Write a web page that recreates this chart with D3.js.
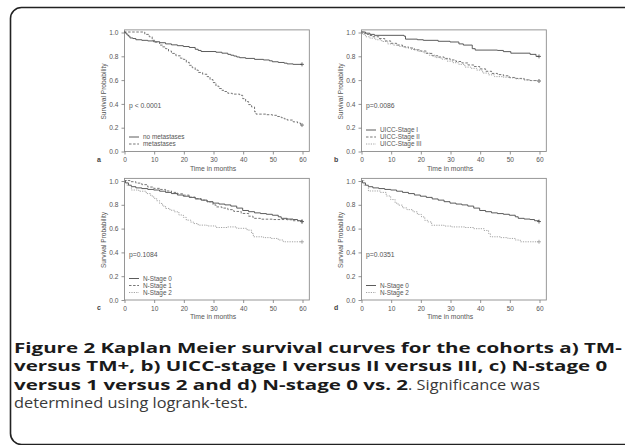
<!DOCTYPE html>
<html>
<head>
<meta charset="utf-8">
<script src="https://cdn.jsdelivr.net/npm/d3@7"></script>
<style>
body { margin: 0; background: #fff; }
svg { display: block; }
</style>
</head>
<body>
<div id="content"></div>
<script>
'use strict';

// ---- data (time in months, survival probability) ----
var xTicks = [0, 10, 20, 30, 40, 50, 60];
var yTicks = [0, 0.2, 0.4, 0.6, 0.8, 1.0];

var noMetastases = [[0, 1], [0.5, 0.99], [1, 0.975], [1.5, 0.965], [2, 0.95], [3, 0.945], [4, 0.935],
    [6, 0.93], [8, 0.925], [10, 0.918], [12, 0.91], [14, 0.9], [16, 0.892], [18, 0.885], [20, 0.878],
    [22, 0.87], [24, 0.855], [25, 0.845], [26, 0.836], [31, 0.83], [33, 0.822], [35, 0.812], [36, 0.805],
    [37, 0.798], [38, 0.79], [39, 0.784], [41, 0.778], [44, 0.77], [47, 0.765], [49, 0.758], [50, 0.75],
    [52, 0.744], [54, 0.738], [55, 0.732], [57, 0.728], [60, 0.728]];
var metastases = [[0, 1], [7, 0.98], [8.5, 0.96], [9.5, 0.93], [10.5, 0.915], [12, 0.89], [13, 0.875],
    [14, 0.86], [15, 0.84], [16, 0.82], [17.5, 0.8], [19, 0.78], [20, 0.77], [21, 0.745], [22, 0.72],
    [23, 0.7], [24, 0.68], [25, 0.66], [26.5, 0.645], [28, 0.625], [29, 0.6], [30, 0.575], [31, 0.545],
    [32, 0.525], [33, 0.51], [34, 0.5], [35, 0.485], [36.5, 0.478], [39, 0.468], [40, 0.44], [41, 0.415],
    [42, 0.39], [43, 0.37], [44, 0.33], [44.5, 0.31], [48, 0.305], [50, 0.3], [51.5, 0.29], [53, 0.28],
    [54, 0.27], [55, 0.26], [57, 0.245], [58.5, 0.235], [59.5, 0.218], [60, 0.218]];

var uiccStage1 = [[0, 1], [1.5, 0.99], [3, 0.98], [4.5, 0.972], [14.5, 0.965], [15, 0.94], [19, 0.935],
    [21, 0.93], [26, 0.922], [30, 0.916], [33, 0.9], [34.5, 0.89], [37.5, 0.86], [38.5, 0.848],
    [46, 0.845], [48, 0.835], [50.5, 0.822], [57, 0.812], [59, 0.795], [60, 0.795]];
var uiccStage2 = [[0, 1], [1, 0.99], [2, 0.98], [3, 0.97], [4, 0.96], [6, 0.945], [8, 0.925],
    [10, 0.905], [12, 0.89], [14, 0.875], [16, 0.865], [18, 0.85], [20, 0.84], [22, 0.82], [24, 0.8],
    [26, 0.79], [28, 0.778], [30, 0.765], [32, 0.752], [34, 0.74], [36, 0.723], [38, 0.71], [40, 0.69],
    [42, 0.67], [44, 0.652], [46, 0.642], [48, 0.632], [50, 0.618], [52, 0.61], [55, 0.598],
    [57, 0.592], [60, 0.588]];
var uiccStage3 = [[0, 1], [0.5, 0.98], [1.5, 0.96], [3, 0.948], [5, 0.935], [7, 0.92], [9, 0.9],
    [11, 0.89], [13, 0.878], [15, 0.868], [17, 0.853], [19, 0.838], [21, 0.825], [23, 0.805],
    [25, 0.785], [27, 0.772], [29, 0.755], [31, 0.742], [33, 0.728], [35, 0.705], [37, 0.695],
    [39, 0.68], [41, 0.655], [43, 0.64], [45, 0.625], [48, 0.62], [50, 0.615], [52, 0.607],
    [55, 0.597], [57, 0.592], [60, 0.588]];

var nStage0 = [[0, 1], [0.5, 0.98], [1.5, 0.96], [2.5, 0.948], [4, 0.938], [6, 0.932], [8, 0.925],
    [10, 0.92], [12, 0.91], [14, 0.9], [16, 0.89], [18, 0.878], [20, 0.868], [22, 0.858], [24, 0.845],
    [26, 0.835], [28, 0.822], [30, 0.81], [32, 0.802], [34, 0.795], [36, 0.785], [38, 0.768],
    [40, 0.748], [42, 0.738], [44, 0.728], [46, 0.722], [48, 0.716], [50, 0.708], [52, 0.695],
    [53, 0.682], [55, 0.676], [57, 0.672], [58.5, 0.662], [60, 0.655]];
var nStage1 = [[0, 1], [2, 0.99], [4, 0.978], [6, 0.965], [8, 0.945], [10, 0.934], [12, 0.925],
    [14, 0.912], [16, 0.9], [18, 0.888], [20, 0.877], [22, 0.86], [24, 0.848], [26, 0.835],
    [28, 0.82], [30, 0.795], [31, 0.778], [33, 0.768], [35, 0.755], [37, 0.74], [39.5, 0.723],
    [42, 0.7], [43.5, 0.682], [46, 0.675], [50, 0.672], [55, 0.67], [57, 0.662], [60, 0.655]];
var nStage2 = [[0, 1], [1, 0.96], [2.5, 0.92], [5, 0.91], [7.5, 0.89], [9, 0.87], [10, 0.85],
    [11, 0.83], [12, 0.807], [13, 0.785], [14, 0.765], [15.5, 0.75], [17, 0.737], [18.5, 0.71],
    [20, 0.69], [21, 0.667], [22.5, 0.65], [23.5, 0.638], [25, 0.625], [28, 0.618], [31, 0.605],
    [35, 0.61], [38, 0.598], [41.5, 0.583], [43, 0.555], [43.6, 0.527], [47, 0.52], [49.5, 0.513],
    [52, 0.5], [53.7, 0.485], [60, 0.485]];
var nStage2d = [[0, 1], [1, 0.96], [2.5, 0.912], [6.5, 0.9], [8.5, 0.87], [10, 0.84], [11.5, 0.81],
    [12.5, 0.793], [14, 0.77], [15.5, 0.755], [17.5, 0.737], [19, 0.715], [20.4, 0.694], [21.5, 0.665],
    [22.5, 0.652], [23.8, 0.624], [28, 0.617], [30.6, 0.61], [35, 0.605], [38, 0.595], [41.5, 0.58],
    [43, 0.555], [43.6, 0.527], [47, 0.52], [49.5, 0.513], [52, 0.5], [53.7, 0.485], [60, 0.485]];

var panelLetters = ['a', 'b', 'c', 'd'];
var pValues = ['p < 0.0001', 'p=0.0086', 'p=0.1084', 'p=0.0351'];
var seriesNames = [
    ['no metastases', 'metastases'],
    ['UICC-Stage I', 'UICC-Stage II', 'UICC-Stage III'],
    ['N-Stage 0', 'N-Stage 1', 'N-Stage 2'],
    ['N-Stage 0', 'N-Stage 2']
];
var seriesData = [
    [noMetastases, metastases],
    [uiccStage1, uiccStage2, uiccStage3],
    [nStage0, nStage1, nStage2],
    [nStage0, nStage2d]
];
var seriesStyles = [
    ['solid', 'dashed'],
    ['solid', 'dashed', 'dotted'],
    ['solid', 'dashed', 'dotted'],
    ['solid', 'dotted']
];

var captionLines = [
    [['b', 'Figure 2 Kaplan Meier survival curves for the cohorts a) TM-']],
    [['b', 'versus TM+, b) UICC-stage I versus II versus III, c) N-stage 0']],
    [['b', 'versus 1 versus 2 and d) N-stage 0 vs. 2'], ['n', '. Significance was']],
    [['n', 'determined using logrank-test.']]
];

var Styles = {
    solid: { stroke: '#4a4a4a', dash: null },
    dashed: { stroke: '#666', dash: '2.5,1.6' },
    dotted: { stroke: '#9a9a9a', dash: '1.2,1.2' }
};

var AXIS_FONT = 'Liberation Sans, Arial, sans-serif';

function drawPanel(svg, idx, left, top) {
    var x = d3.scaleLinear().domain([0, 60]).range([left, left + 178]);
    var y = d3.scaleLinear().domain([0, 1]).range([top + 119, top]);
    var boxRight = x(62.3), boxTop = y(1.022), boxBottom = y(0);

    var g = svg.append('g').attr('class', 'panel');

    g.append('rect')
        .attr('x', left + 0.5)
        .attr('y', boxTop + 0.5)
        .attr('width', boxRight - left)
        .attr('height', boxBottom - boxTop)
        .style('fill', 'none')
        .style('stroke', '#8c8c8c')
        .style('stroke-width', 0.9);

    var xAxis = g.append('g')
        .attr('transform', 'translate(0.5 ' + (boxBottom + 0.5) + ')')
        .call(d3.axisBottom(x).tickValues(xTicks).tickSize(3).tickPadding(3).tickFormat(d3.format('d')));
    var yAxis = g.append('g')
        .attr('transform', 'translate(' + (left + 0.5) + ' 0.5)')
        .call(d3.axisLeft(y).tickValues(yTicks).tickSize(3).tickPadding(3).tickFormat(d3.format('.1f')));

    [xAxis, yAxis].forEach(function (a) {
        a.select('.domain').remove();
        a.selectAll('line').style('stroke', '#777').style('stroke-width', 0.8);
        a.selectAll('text')
            .style('font-family', AXIS_FONT)
            .style('font-size', '6.6px')
            .style('fill', '#555');
    });

    g.append('text')
        .attr('transform', 'translate(' + (left - 18) + ' ' + y(0.5) + ') rotate(-90)')
        .style('text-anchor', 'middle')
        .style('font-family', AXIS_FONT)
        .style('font-size', '6.6px')
        .style('fill', '#555')
        .text('Survival Probability');

    g.append('text')
        .attr('x', x(30))
        .attr('y', boxBottom + 19.5)
        .style('text-anchor', 'middle')
        .style('font-family', AXIS_FONT)
        .style('font-size', '6.8px')
        .style('fill', '#555')
        .text('Time in months');

    g.append('text')
        .attr('x', left - 27)
        .attr('y', boxBottom + 10.5)
        .style('font-family', AXIS_FONT)
        .style('font-size', '7px')
        .style('font-weight', 'bold')
        .style('fill', '#444')
        .text(panelLetters[idx]);

    g.append('text')
        .attr('x', left + 5)
        .attr('y', y(0.38) + 2.5)
        .style('font-family', AXIS_FONT)
        .style('font-size', '6.8px')
        .style('fill', '#555')
        .text(pValues[idx]);

    var line = d3.line()
        .x(function (d) { return x(d[0]); })
        .y(function (d) { return y(d[1]); })
        .curve(d3.curveStepAfter);

    var data = seriesData[idx];
    data.forEach(function (s, i) {
        var st = Styles[seriesStyles[idx][i]];
        g.append('path')
            .datum(s)
            .attr('d', line)
            .style('fill', 'none')
            .style('stroke', st.stroke)
            .style('stroke-width', 0.9)
            .style('stroke-dasharray', st.dash);

        var end = s[s.length - 1];
        g.append('path')
            .attr('d', 'M' + (x(end[0]) - 2) + ',' + y(end[1]) + 'h4M' + x(end[0]) + ',' + (y(end[1]) - 2) + 'v4')
            .style('stroke', st.stroke)
            .style('stroke-width', 0.8);
    });

    var names = seriesNames[idx];
    var rowY = function (i) { return boxBottom - 7 - (names.length - 1 - i) * 7; };
    names.forEach(function (name, i) {
        var st = Styles[seriesStyles[idx][i]];
        g.append('line')
            .attr('x1', left + 5)
            .attr('x2', left + 15)
            .attr('y1', rowY(i))
            .attr('y2', rowY(i))
            .style('stroke', st.stroke)
            .style('stroke-width', 0.9)
            .style('stroke-dasharray', st.dash);
        g.append('text')
            .attr('x', left + 19)
            .attr('y', rowY(i) + 2.3)
            .style('font-family', AXIS_FONT)
            .style('font-size', '6.4px')
            .style('fill', '#555')
            .text(name);
    });
}

function run() {
    var svg = d3.select('#content')
        .append('svg')
        .attr('width', 625)
        .attr('height', 445);

    svg.append('rect')
        .attr('width', 625)
        .attr('height', 445)
        .style('fill', '#fff');

    // frame runs off the right and bottom edges of the crop
    svg.append('rect')
        .attr('x', 10.5)
        .attr('y', 7.5)
        .attr('width', 660)
        .attr('height', 437)
        .attr('rx', 11)
        .style('fill', 'none')
        .style('stroke', '#222')
        .style('stroke-width', 1.6);

    var origins = [[124, 32], [361, 32], [124, 180.5], [361, 180.5]];
    origins.forEach(function (o, i) { drawPanel(svg, i, o[0], o[1]); });

    // caption: Open Sans is wider than the original face, so squeeze the
    // bold and regular runs horizontally (one factor for each weight)
    var baselines = [353, 371.3, 389.5, 407.8];
    var fontSize = '14.8px';

    var measure = function (kind, str) {
        var t = svg.append('text')
            .style('font-family', 'Open Sans, sans-serif')
            .style('font-size', fontSize)
            .style('font-weight', kind === 'b' ? 'bold' : 'normal')
            .text(str);
        var w = t.node().getComputedTextLength();
        t.remove();
        return w;
    };
    var squeeze = {
        b: 608 / measure('b', captionLines[0][0][1]),
        n: 234 / measure('n', captionLines[3][0][1])
    };

    captionLines.forEach(function (parts, i) {
        var cx = 14;
        parts.forEach(function (p) {
            var t = svg.append('text')
                .attr('transform', 'translate(' + cx + ' ' + baselines[i] + ') scale(' + squeeze[p[0]] + ' 1)')
                .style('font-family', 'Open Sans, sans-serif')
                .style('font-size', fontSize)
                .style('font-weight', p[0] === 'b' ? 'bold' : 'normal')
                .style('fill', p[0] === 'b' ? '#1a1a1a' : '#3a3a3a')
                .text(p[1]);
            cx += t.node().getComputedTextLength() * squeeze[p[0]];
        });
    });
}

document.addEventListener('DOMContentLoaded', run);
</script>
</body>
</html>
